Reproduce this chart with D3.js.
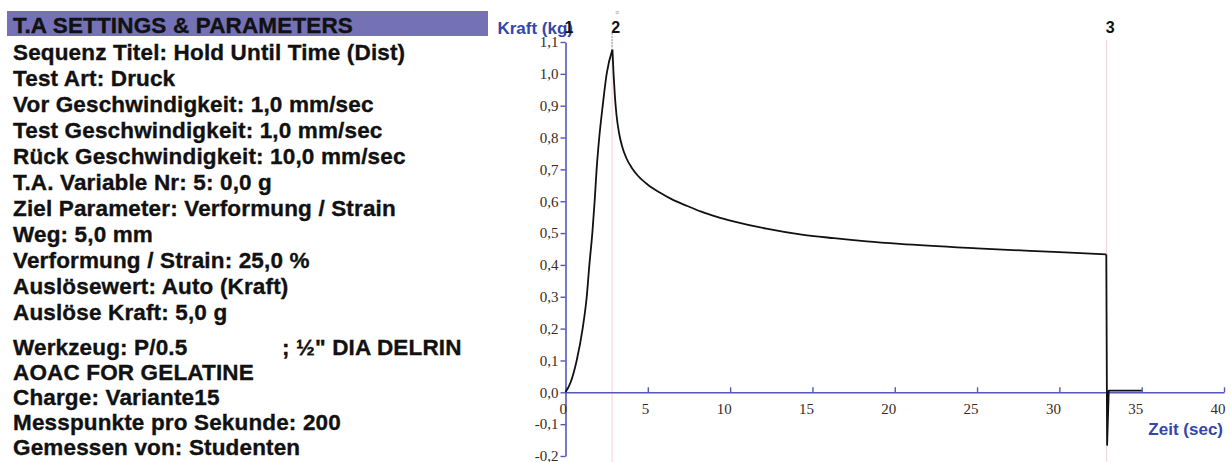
<!DOCTYPE html>
<html>
<head>
<meta charset="utf-8">
<script src="https://cdn.jsdelivr.net/npm/d3@7"></script>
<style>
  html, body { margin: 0; padding: 0; background: #fff; }
  svg { display: block; }
</style>
</head>
<body>
<svg id="chart" width="1231" height="462"></svg>
<script>
// Test settings listed beside the plot
const settingsTitle = "T.A SETTINGS & PARAMETERS";
const settingsLines = [
  "Sequenz Titel: Hold Until Time (Dist)",
  "Test Art: Druck",
  "Vor Geschwindigkeit: 1,0 mm/sec",
  "Test Geschwindigkeit: 1,0 mm/sec",
  "Rück Geschwindigkeit: 10,0 mm/sec",
  "T.A. Variable Nr: 5: 0,0 g",
  "Ziel Parameter: Verformung / Strain",
  "Weg: 5,0 mm",
  "Verformung / Strain: 25,0 %",
  "Auslösewert: Auto (Kraft)",
  "Auslöse Kraft: 5,0 g"
];
const probeName = "Werkzeug: P/0.5";
const probeDesc = "; ½\" DIA DELRIN";
const extraLines = [
  "AOAC FOR GELATINE",
  "Charge: Variante15",
  "Messpunkte pro Sekunde: 200",
  "Gemessen von: Studenten"
];

// Force/time curve: time in seconds, force in kg
const timeSec = [0, 0.3, 0.68, 1.04, 1.29, 1.45, 1.63, 1.77, 1.89, 2.05, 2.26, 2.5, 2.85,
                 2.92, 3.0, 3.1, 3.25, 3.45, 3.7, 4.0, 4.4, 5.0, 5.7, 6.5, 7.4, 8.2, 9.2,
                 10.2, 12.2, 14.25, 16.3, 18.3, 20.3, 25, 30, 32.85,
                 32.9, 33.0, 35.0];
const forceKg = [0, 0.03, 0.1, 0.2, 0.3, 0.4, 0.5, 0.6, 0.7, 0.8, 0.9, 1.0, 1.076,
                 1.0, 0.93, 0.87, 0.815, 0.77, 0.735, 0.707, 0.68, 0.652, 0.628, 0.605, 0.585, 0.568, 0.551,
                 0.537, 0.514, 0.496, 0.484, 0.474, 0.466, 0.452, 0.44, 0.433,
                 -0.165, 0.005, 0.005];
// index of the peak and of the end of the hold phase
const peakIndex = 12;
const holdEndIndex = 35;

// Event markers along the time axis
const markerLabels = ["1", "2", "3"];
const markerTimes = [0, 2.83, 32.87];

// Axis ticks
const xTicks = [0, 5, 10, 15, 20, 25, 30, 35, 40];
const yTicks = [-0.2, -0.1, 0, 0.1, 0.2, 0.3, 0.4, 0.5, 0.6, 0.7, 0.8, 0.9, 1.0, 1.1];

const svg = d3.select("#chart");
const textFont = "'Liberation Sans', Arial, Helvetica, sans-serif";
const tickFont = "'Liberation Serif', 'Times New Roman', serif";
const axisColor = "#5656b8";
const labelBlue = "#3346ad";
const tickColor = "#3a2a22";

// ---- settings panel ----
const panel = svg.append("g").attr("font-family", textFont).attr("font-weight", "bold")
  .attr("font-size", 22.5).attr("fill", "#111")
  .attr("stroke", "#111").attr("stroke-width", 0.35)
  .attr("letter-spacing", 0.15);

panel.append("rect").attr("x", 7).attr("y", 11).attr("width", 481).attr("height", 25)
  .attr("fill", "#7471b6").attr("stroke", "none");
panel.append("text").attr("x", 13).attr("y", 33).text(settingsTitle);

panel.selectAll("text.setting").data(settingsLines).join("text")
  .attr("class", "setting")
  .attr("x", 13)
  .attr("y", (d, i) => 60 + i * 26)
  .text(d => d);

panel.append("text").attr("x", 13).attr("y", 355).text(probeName);
panel.append("text").attr("x", 282).attr("y", 355).text(probeDesc);

panel.selectAll("text.extra").data(extraLines).join("text")
  .attr("class", "extra")
  .attr("x", 13)
  .attr("y", (d, i) => 380 + i * 25)
  .text(d => d);

// ---- plot ----
const x = d3.scaleLinear().domain([0, 40]).range([565.5, 1224]);
const y = d3.scaleLinear().domain([-0.2, 1.1]).range([456, 42]);

const commaFmt = v => d3.format(".1f")(v).replace(".", ",").replace("\u2212", "-");

// marker guide lines
const guides = svg.append("g");
guides.selectAll("line.guide").data(markerTimes.slice(1)).join("line")
  .attr("class", "guide")
  .attr("x1", d => x(d)).attr("x2", d => x(d))
  .attr("y1", 40).attr("y2", 462)
  .attr("stroke", "#f2d3d8").attr("stroke-width", 1);
guides.append("line")
  .attr("x1", x(markerTimes[1])).attr("x2", x(markerTimes[1]))
  .attr("y1", 33).attr("y2", 48)
  .attr("stroke", "#b8b8b8").attr("stroke-width", 1.5)
  .attr("stroke-dasharray", "2,1");
guides.append("text")
  .attr("x", x(markerTimes[1]) + 5).attr("y", 15)
  .attr("font-family", textFont).attr("font-size", 7).attr("fill", "#999")
  .attr("text-anchor", "middle")
  .text("≡");

// y axis
const yAxis = d3.axisLeft(y).tickValues(yTicks).tickFormat(commaFmt)
  .tickSize(5).tickSizeOuter(0).tickPadding(2);
const gy = svg.append("g").attr("transform", `translate(${x(0)},0)`).call(yAxis);
gy.select(".domain").attr("stroke", axisColor).attr("stroke-width", 1.6);
gy.selectAll(".tick line").attr("stroke", axisColor).attr("stroke-width", 1.4);
gy.selectAll(".tick text").attr("font-family", tickFont).attr("font-size", 15)
  .attr("fill", tickColor);

// x axis (ticks point up into the plot)
const xAxis = d3.axisBottom(x).tickValues(xTicks).tickFormat(d3.format("d"))
  .tickSize(-5).tickSizeOuter(0).tickPadding(11);
const gx = svg.append("g").attr("transform", `translate(0,${y(0)})`).call(xAxis);
gx.select(".domain").attr("stroke", axisColor).attr("stroke-width", 1.6);
gx.selectAll(".tick line").attr("stroke", axisColor).attr("stroke-width", 1.4);
gx.selectAll(".tick text").attr("font-family", tickFont).attr("font-size", 15)
  .attr("fill", tickColor).attr("text-anchor", "end").attr("dx", "1");

// axis titles
svg.append("text").attr("x", 573).attr("y", 34).attr("text-anchor", "end")
  .attr("font-family", textFont).attr("font-weight", "bold").attr("font-size", 17)
  .attr("fill", labelBlue).text("Kraft (kg)");
svg.append("text").attr("x", 1223).attr("y", 435).attr("text-anchor", "end")
  .attr("font-family", textFont).attr("font-weight", "bold").attr("font-size", 17)
  .attr("fill", labelBlue).text("Zeit (sec)");

// force curve: loading, relaxation, withdrawal
const pts = timeSec.map((t, i) => [t, forceKg[i]]);
const smooth = d3.line().x(d => x(d[0])).y(d => y(d[1])).curve(d3.curveMonotoneX);
const straight = d3.line().x(d => x(d[0])).y(d => y(d[1]));
const curveG = svg.append("g").attr("fill", "none").attr("stroke", "#111")
  .attr("stroke-width", 1.8).attr("stroke-linejoin", "round");
curveG.append("path").attr("d", smooth(pts.slice(0, peakIndex + 1)));
curveG.append("path").attr("d", smooth(pts.slice(peakIndex, holdEndIndex + 1)));
curveG.append("path").attr("d", straight(pts.slice(holdEndIndex)));

// event marker numbers
svg.selectAll("text.marker").data(markerLabels).join("text")
  .attr("class", "marker")
  .attr("x", (d, i) => x(markerTimes[i]) + 3.5)
  .attr("y", 33)
  .attr("text-anchor", "middle")
  .attr("font-family", textFont).attr("font-weight", "bold").attr("font-size", 16)
  .attr("fill", "#111")
  .text(d => d);
</script>
</body>
</html>
